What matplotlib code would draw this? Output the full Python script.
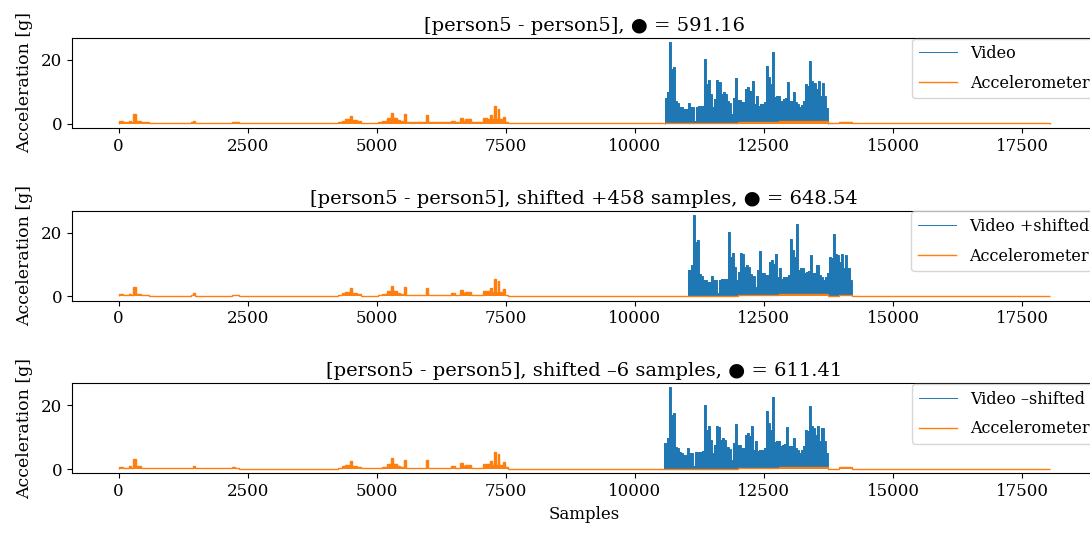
import numpy as np
import matplotlib
matplotlib.use('Agg')
import matplotlib.pyplot as plt
from matplotlib.ticker import MultipleLocator

plt.rcParams['font.family'] = ['DejaVu Serif']
plt.rcParams['font.size'] = 11

# video magnitude, one value per 40-sample bin starting at sample 10580
video_start = 10580
video_bin = 40
video_vals = [8.2, 9.8, 25.6, 17.0, 17.6, 7.0, 6.5, 5.3, 5.1, 4.6,
              4.6, 6.5, 5.1, 5.1, 1.0, 5.3, 5.4, 5.4, 5.6, 20.2,
              12.4, 13.6, 9.3, 5.1, 7.7, 13.6, 13.2, 9.3, 9.8, 9.3,
              7.0, 6.4, 3.0, 8.2, 14.2, 7.5, 7.5, 6.7, 6.7, 10.8,
              11.4, 10.3, 13.4, 6.1, 8.8, 5.6, 6.1, 6.1, 6.7, 18.1,
              14.5, 12.4, 22.6, 8.4, 8.8, 8.8, 7.2, 7.7, 8.0, 13.1,
              7.2, 7.2, 9.8, 6.7, 6.1, 5.1, 6.0, 7.2, 12.4, 11.9,
              19.7, 13.4, 12.9, 10.8, 13.4, 8.8, 12.9, 8.8, 5.0]

# accelerometer magnitude as piecewise levels between sample edges
acc_edges = [0, 80, 200, 250, 290, 330, 430, 600, 1400, 1440,
             1480, 2200, 2260, 2340, 4260, 4330, 4390, 4480, 4530, 4620,
             4700, 5030, 5100, 5200, 5270, 5310, 5400, 5450, 5520, 5560,
             5960, 6000, 6440, 6520, 6620, 6670, 6720, 6820, 7060, 7140,
             7200, 7240, 7280, 7320, 7345, 7375, 7450, 7490, 7540, 8000,
             8700, 12000, 12800, 13100, 13750, 13950, 14200, 14600, 18040]
acc_vals = [0.7, 0.4, 0.9, 0.5, 3.1, 0.9, 0.4, 0.3, 0.5, 1.0,
            0.3, 0.6, 0.5, 0.1, 0.5, 1.0, 1.4, 2.5, 1.1, 0.7,
            0.3, 0.5, 0.7, 1.7, 3.4, 1.7, 1.1, 0.8, 2.9, 0.4,
            2.8, 0.4, 1.0, 0.5, 1.9, 1.0, 1.4, 0.4, 1.7, 1.6,
            2.7, 1.4, 5.5, 1.4, 4.7, 1.4, 2.2, 0.6, 0.2, 0.15,
            0.1, 0.4, 0.8, 0.7, 0.2, 0.6, 0.2, 0.1]

shifts = [0, 458, -6]
video_labels = ['Video', 'Video +shifted', 'Video \u2013shifted']
titles = ['[person5 - person5], \u25cf = 591.16',
          '[person5 - person5], shifted +458 samples, \u25cf = 648.54',
          '[person5 - person5], shifted \u20136 samples, \u25cf = 611.41']

fig, axes = plt.subplots(3, 1, figsize=(10.9, 5.33), dpi=100)
fig.subplots_adjust(left=0.066, right=1.006, top=0.929, bottom=0.112, hspace=0.92)

for ax, shift, vlabel, title in zip(axes, shifts, video_labels, titles):
    edges = video_start + shift + video_bin * np.arange(len(video_vals) + 1)
    ax.stairs(video_vals, edges, fill=True, color='C0', lw=0)
    ax.stairs(video_vals, edges, color='C0', lw=0.7, label=vlabel)
    ax.stairs(acc_vals, acc_edges, fill=True, color='C1', lw=0)
    ax.stairs(acc_vals, acc_edges, color='C1', lw=1.0, label='Accelerometer')
    ax.use_sticky_edges = False
    ax.margins(0.05)
    ax.set_yticks([0, 20])
    ax.xaxis.set_major_locator(MultipleLocator(2500))
    ax.tick_params(labelsize=12)
    ax.set_ylabel('Acceleration [g]', fontsize=12.5, labelpad=6)
    ax.set_title(title, fontsize=14, pad=5)
    ax.legend(loc='upper right', fontsize=11.5, borderaxespad=0.05,
              handlelength=2.4, labelspacing=0.8)

axes[-1].set_xlabel('Samples', fontsize=12)

fig.savefig('out.png', dpi=100)
